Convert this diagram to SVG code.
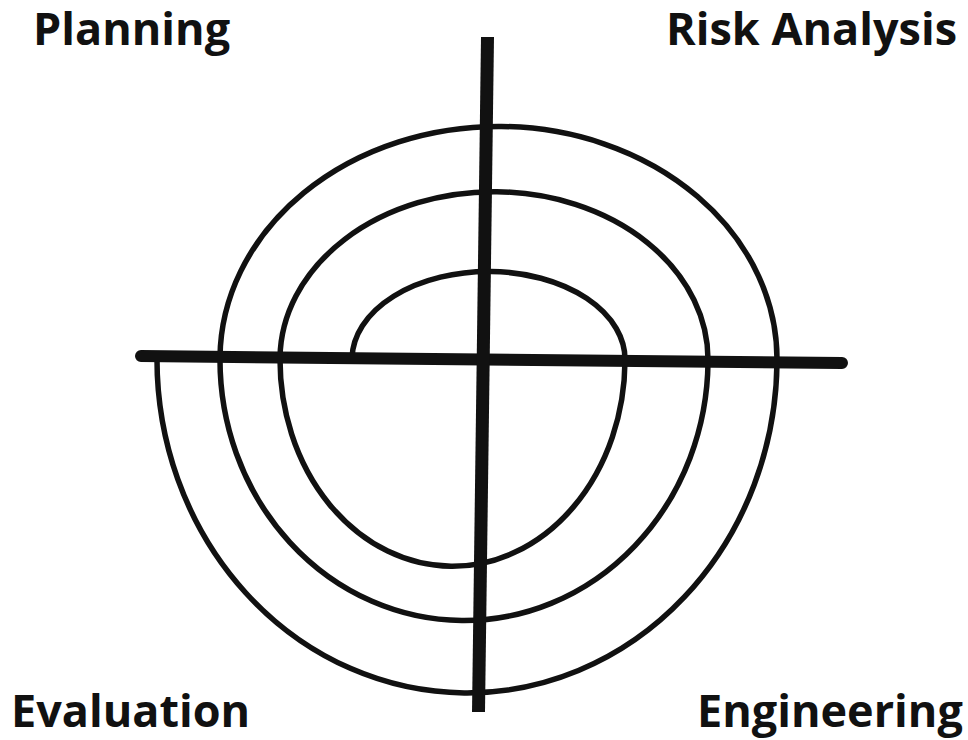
<svg xmlns="http://www.w3.org/2000/svg" width="968" height="740" viewBox="0 0 968 740">
  <style>
    .lbl { font-family: "Open Sans", "Liberation Sans", sans-serif; font-weight: 700; font-size: 45px; fill: #111; }
    .axis { stroke: #111; fill: none; }
    .spiral { stroke: #111; stroke-width: 5.5; fill: none; stroke-linecap: round; }
  </style>
  <rect width="968" height="740" fill="#fff"/>
  <g id="spiral">
    <path class="spiral" d="M352,358 A136.5,88 0 0 1 625,361 A172.5,207 0 0 1 280,357.5 A214,168 0 0 1 708,362 A244,261 0 0 1 220,357 A278.5,233 0 0 1 777,362 A310,334 0 0 1 157,356"/>
  </g>
  <g id="axes">
    <line class="axis" x1="141" y1="356" x2="842" y2="363" stroke-width="12" stroke-linecap="round"/>
    <line class="axis" x1="487.5" y1="37" x2="478.5" y2="712" stroke-width="13"/>
  </g>
  <g id="planning"><text class="lbl" x="33" y="45">Planning</text></g>
  <g id="risk-analysis"><text class="lbl" x="666" y="45">Risk Analysis</text></g>
  <g id="evaluation"><text class="lbl" x="11" y="727">Evaluation</text></g>
  <g id="engineering"><text class="lbl" x="697" y="727">Engineering</text></g>
</svg>
